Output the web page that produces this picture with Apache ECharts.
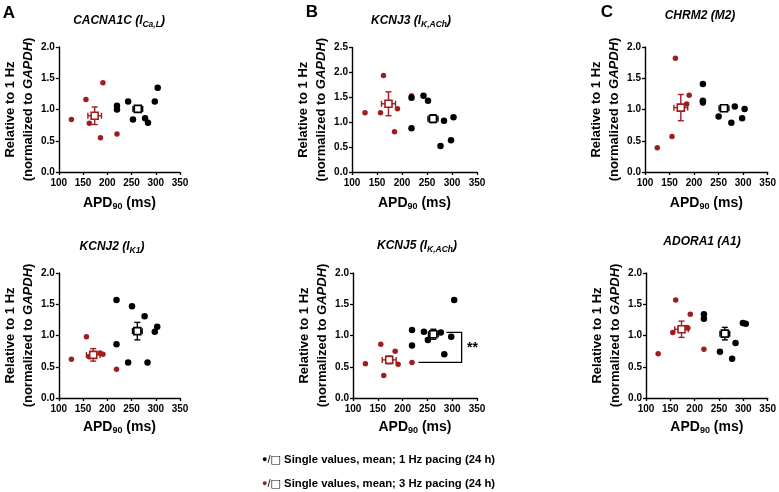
<!DOCTYPE html>
<html><head><meta charset="utf-8">
<script src="https://cdn.jsdelivr.net/npm/echarts@6/dist/echarts.min.js"></script>
<style>html,body{margin:0;padding:0;background:#fff}#c{width:779px;height:492px}</style>
</head><body><div id="c"></div>
<script>
// ---------- tick labels ----------
const xTickMin = 100, xTickMax = 350, xTickStep = 50;
const yTickStep = 0.5;
const yMaxDefault = 2.0;
const yMaxKCNJ3 = 2.5;

// ---------- data: [APD90 (ms), relative expression] ----------
const cacna1c_3Hz = [[126,0.84],[156,1.16],[163,0.78],[186,0.55],[191,1.43],[220,0.61]];
const cacna1c_1Hz = [[220,1.06],[220,1.00],[243,1.13],[253,0.84],[278,0.86],[284,0.79],[298,1.13],[304,1.35]];
const cacna1c_mean3Hz = [174,0.90,14,0.14];   // [x, y, xSEM, ySEM]
const cacna1c_mean1Hz = [263,1.01,10,0.05];

const kcnj3_3Hz = [[126,1.19],[157,1.19],[163,1.94],[185,0.81],[191,1.27],[219,1.53]];
const kcnj3_1Hz = [[219,1.49],[219,0.88],[243,1.53],[252,1.43],[277,0.52],[284,1.03],[298,0.64],[303,1.10]];
const kcnj3_mean3Hz = [173,1.37,14,0.24];
const kcnj3_mean1Hz = [262,1.07,10,0.08];

const chrm2_3Hz = [[125,0.39],[155,0.57],[162,1.82],[185,1.09],[190,1.23],[218,1.10]];
const chrm2_1Hz = [[218,1.41],[218,1.14],[218,1.12],[250,0.89],[276,0.79],[283,1.05],[298,0.86],[303,1.01]];
const chrm2_mean3Hz = [173,1.03,14,0.21];
const chrm2_mean1Hz = [261,1.02,10,0.05];

const kcnj2_3Hz = [[126,0.62],[157,0.98],[163,0.66],[185,0.72],[191,0.70],[219,0.46]];
const kcnj2_1Hz = [[219,1.57],[219,0.86],[243,0.57],[251,1.47],[277,1.31],[283,0.57],[298,1.06],[303,1.14]];
const kcnj2_mean3Hz = [171,0.69,14,0.10];
const kcnj2_mean1Hz = [262,1.07,10,0.14];

const kcnj5_3Hz = [[125,0.55],[156,0.86],[162,0.36],[185,0.75],[191,0.54],[219,0.57]];
const kcnj5_1Hz = [[219,1.09],[219,0.84],[243,1.06],[251,0.93],[277,1.05],[284,0.70],[298,0.98],[304,1.57]];
const kcnj5_mean3Hz = [173,0.61,14,0.06];
const kcnj5_mean1Hz = [262,1.02,10,0.08];
const kcnj5_sigBracket = [[288,1.05],[319,1.05],[319,0.57],[232,0.57]];
const kcnj5_sigStars = [[341,0.79,'**']];

const adora1_3Hz = [[125,0.71],[155,1.05],[161,1.57],[184,1.13],[186,1.12],[191,1.34],[219,0.78]];
const adora1_1Hz = [[219,1.34],[219,1.27],[252,0.74],[277,0.63],[284,0.88],[299,1.20],[305,1.19]];
const adora1_mean3Hz = [173,1.10,14,0.13];
const adora1_mean1Hz = [262,1.03,10,0.10];

// ---------- text ----------
const panelLetters = ['A','B','C'];
const titles = [
  'CACNA1C (I{sub|Ca,L})',
  'KCNJ3 (I{sub|K,ACh})',
  'CHRM2 (M2)',
  'KCNJ2 (I{sub|K1})',
  'KCNJ5 (I{sub|K,ACh})',
  'ADORA1 (A1)'
];
const xName = 'APD{sub|90} (ms)';
const yName = 'Relative to 1 Hz\n(normalized to {i|GAPDH})';
const legendLines = [
  '{d1|●}{s|/}{q1|□} Single values, mean; 1 Hz pacing (24 h)',
  '{d3|●}{s|/}{q3|□} Single values, mean; 3 Hz pacing (24 h)'
];

// ---------- style ----------
const FONT = "'Liberation Sans', Arial, sans-serif";
const RED = '#a11d1d';
const BLACK = '#000';

const panels = [
  {grid:{left:56, top:47, width:124, height:125}, yMax:yMaxDefault, d3:cacna1c_3Hz, d1:cacna1c_1Hz, m3:cacna1c_mean3Hz, m1:cacna1c_mean1Hz, title:[119,21]},
  {grid:{left:352, top:47.5, width:125, height:124.5}, yMax:yMaxKCNJ3, d3:kcnj3_3Hz, d1:kcnj3_1Hz, m3:kcnj3_mean3Hz, m1:kcnj3_mean1Hz, title:[411,21]},
  {grid:{left:645, top:47, width:125, height:125}, yMax:yMaxDefault, d3:chrm2_3Hz, d1:chrm2_1Hz, m3:chrm2_mean3Hz, m1:chrm2_mean1Hz, title:[700,16]},
  {grid:{left:55, top:273, width:125, height:125}, yMax:yMaxDefault, d3:kcnj2_3Hz, d1:kcnj2_1Hz, m3:kcnj2_mean3Hz, m1:kcnj2_mean1Hz, title:[112,247]},
  {grid:{left:353, top:273, width:124, height:125}, yMax:yMaxDefault, d3:kcnj5_3Hz, d1:kcnj5_1Hz, m3:kcnj5_mean3Hz, m1:kcnj5_mean1Hz, title:[417,246], bracket:kcnj5_sigBracket, stars:kcnj5_sigStars},
  {grid:{left:646, top:273, width:125, height:125}, yMax:yMaxDefault, d3:adora1_3Hz, d1:adora1_1Hz, m3:adora1_mean3Hz, m1:adora1_mean1Hz, title:[702,242]}
];
const letterPos = [[9,13],[312,12],[607,12]];

const grids = [], xAxes = [], yAxes = [], series = [], graphics = [];

function errRender(color){
  return function(params, api){
    const x = api.value(0), y = api.value(1), ex = api.value(2), ey = api.value(3);
    const c = api.coord([x,y]);
    const l = api.coord([x-ex,y]), r = api.coord([x+ex,y]);
    const t = api.coord([x,y+ey]), b = api.coord([x,y-ey]);
    const cap = 3, st = {stroke:color, lineWidth:1.4};
    return {type:'group', children:[
      {type:'line', shape:{x1:l[0],y1:c[1],x2:r[0],y2:c[1]}, style:st},
      {type:'line', shape:{x1:l[0],y1:c[1]-cap,x2:l[0],y2:c[1]+cap}, style:st},
      {type:'line', shape:{x1:r[0],y1:c[1]-cap,x2:r[0],y2:c[1]+cap}, style:st},
      {type:'line', shape:{x1:c[0],y1:t[1],x2:c[0],y2:b[1]}, style:st},
      {type:'line', shape:{x1:c[0]-cap,y1:t[1],x2:c[0]+cap,y2:t[1]}, style:st},
      {type:'line', shape:{x1:c[0]-cap,y1:b[1],x2:c[0]+cap,y2:b[1]}, style:st}
    ]};
  };
}

panels.forEach((p, i) => {
  grids.push(Object.assign({containLabel:false}, p.grid));
  const axisCommon = {
    axisLine:{show:true, onZero:false, lineStyle:{color:BLACK, width:1.4}},
    axisTick:{show:true, length:3, lineStyle:{color:BLACK, width:1.3}},
    splitLine:{show:false}
  };
  xAxes.push(Object.assign({}, axisCommon, {
    type:'value', gridIndex:i, min:xTickMin, max:xTickMax, interval:xTickStep,
    axisLabel:{fontFamily:FONT, fontSize:10, fontWeight:'bold', color:BLACK, margin:6},
    name:xName, nameLocation:'middle', nameGap: i < 3 ? 23 : 21,
    nameTextStyle:{fontFamily:FONT, fontSize:14, fontWeight:'bold', color:BLACK, lineHeight:16,
      rich:{sub:{fontFamily:FONT, fontSize:9, fontWeight:'bold', color:BLACK, verticalAlign:'bottom', lineHeight:12}}}
  }));
  yAxes.push(Object.assign({}, axisCommon, {
    type:'value', gridIndex:i, min:0, max:p.yMax, interval:yTickStep,
    axisLabel:{fontFamily:FONT, fontSize:10, fontWeight:'bold', color:BLACK, margin:4,
      formatter:v => v.toFixed(1)},
    name:yName, nameLocation:'middle', nameRotate:90, nameGap:19,
    nameTextStyle:{fontFamily:FONT, fontSize:13, fontWeight:'bold', color:BLACK, lineHeight:18, align:'center',
      rich:{i:{fontFamily:FONT, fontSize:13, fontWeight:'bold', fontStyle:'italic', color:BLACK, lineHeight:18}}}
  }));
  series.push({type:'scatter', xAxisIndex:i, yAxisIndex:i, data:p.d3, symbol:'circle', symbolSize:5.5,
    itemStyle:{color:RED, opacity:1}, silent:true, z:2});
  series.push({type:'scatter', xAxisIndex:i, yAxisIndex:i, data:p.d1, symbol:'circle', symbolSize:6.5,
    itemStyle:{color:BLACK, opacity:1}, silent:true, z:2});
  series.push({type:'custom', xAxisIndex:i, yAxisIndex:i, data:[p.m3], renderItem:errRender(RED), z:3, silent:true});
  series.push({type:'custom', xAxisIndex:i, yAxisIndex:i, data:[p.m1], renderItem:errRender(BLACK), z:3, silent:true});
  series.push({type:'scatter', xAxisIndex:i, yAxisIndex:i, data:[p.m3.slice(0,2)], symbol:'rect', symbolSize:7,
    itemStyle:{color:'#fff', borderColor:RED, borderWidth:1.6, opacity:1}, z:4, silent:true});
  series.push({type:'scatter', xAxisIndex:i, yAxisIndex:i, data:[p.m1.slice(0,2)], symbol:'rect', symbolSize:7,
    itemStyle:{color:'#fff', borderColor:BLACK, borderWidth:1.6, opacity:1}, z:4, silent:true});
  if (p.bracket) {
    series.push({type:'custom', xAxisIndex:i, yAxisIndex:i, data:[0], silent:true, z:3, clip:false,
      renderItem:(params, api) => ({type:'polyline', shape:{points:p.bracket.map(pt => api.coord(pt))},
        style:{stroke:BLACK, lineWidth:1.3, fill:null}})});
    series.push({type:'custom', xAxisIndex:i, yAxisIndex:i, data:p.stars, silent:true, z:3, clip:false,
      renderItem:(params, api) => {
        const c = api.coord([api.value(0), api.value(1)]);
        return {type:'text', x:c[0], y:c[1], style:{text:p.stars[params.dataIndex][2], fontFamily:FONT,
          fontSize:14, fontWeight:'bold', fill:BLACK, align:'center', verticalAlign:'middle'}};
      }});
  }
  graphics.push({type:'text', x:p.title[0], y:p.title[1], style:{
    text:titles[i], fontFamily:FONT, fontSize:12, fontWeight:'bold', fontStyle:'italic', fill:BLACK,
    align:'center', verticalAlign:'middle', lineHeight:16,
    rich:{sub:{fontFamily:FONT, fontSize:8.5, fontWeight:'bold', fontStyle:'italic', fill:BLACK, verticalAlign:'bottom', lineHeight:12}}
  }});
});

panelLetters.forEach((t, i) => {
  graphics.push({type:'text', x:letterPos[i][0], y:letterPos[i][1], style:{text:t, fontFamily:FONT, fontSize:17,
    fontWeight:'bold', fill:BLACK, align:'center', verticalAlign:'middle'}});
});

const legendY = [460, 484];
legendLines.forEach((t, i) => {
  graphics.push({type:'text', x:262, y:legendY[i], style:{text:t, fontFamily:FONT, fontSize:11.3, fontWeight:'bold',
    fill:BLACK, align:'left', verticalAlign:'middle',
    rich:{d1:{fill:BLACK, fontSize:9, fontFamily:FONT}, d3:{fill:RED, fontSize:9, fontFamily:FONT},
      s:{fill:BLACK, fontSize:11.3, fontFamily:FONT}, q1:{fill:BLACK, fontSize:11, fontFamily:'DejaVu Sans'},
      q3:{fill:BLACK, fontSize:11, fontFamily:'DejaVu Sans'}}}});
});

const chart = echarts.init(document.getElementById('c'), null, {renderer:'canvas'});
chart.setOption({
  animation:false, backgroundColor:'#fff',
  grid:grids, xAxis:xAxes, yAxis:yAxes, series:series, graphic:graphics
});
</script></body></html>
